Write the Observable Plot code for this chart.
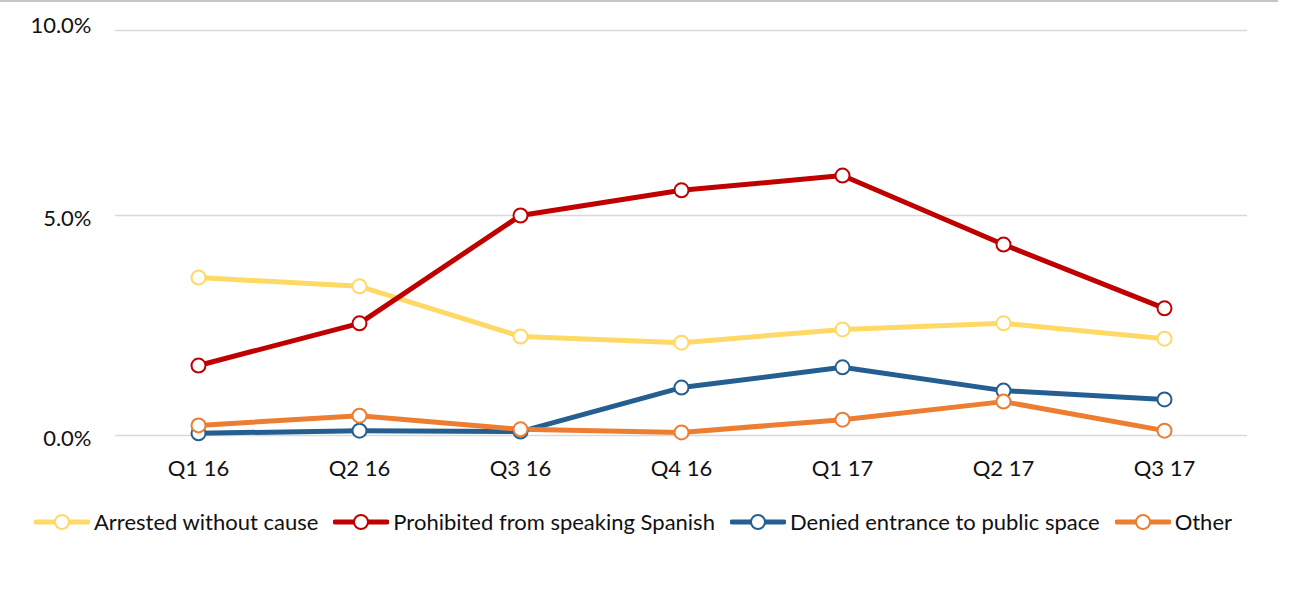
<!DOCTYPE html>
<html>
<head>
<meta charset="utf-8">
<script src="https://cdn.jsdelivr.net/npm/d3@7"></script>
<script src="https://cdn.jsdelivr.net/npm/@observablehq/plot@0.6"></script>
<style>
  html, body { margin: 0; padding: 0; background: #fff; }
  body { width: 1291px; height: 598px; overflow: hidden; font-family: Lato, "Open Sans", sans-serif; color: #111; }
  #frame { position: absolute; left: 0; top: 0; width: 1278px; height: 0; border-top: 2px solid #c6c6c6; }
  #chart { position: absolute; left: 0; top: 0; }
  #legend { position: absolute; left: 34px; top: 508px; display: flex; align-items: center; font-size: 22px; white-space: nowrap; }
  .item { display: flex; align-items: center; margin-right: 15px; }
  .item svg { margin-right: 4px; }
</style>
</head>
<body>
<div id="frame"></div>
<div id="chart"></div>
<div id="legend"></div>
<script>
const quarters = ["Q1 16", "Q2 16", "Q3 16", "Q4 16", "Q1 17", "Q2 17", "Q3 17"];
const seriesNames = ["Arrested without cause", "Prohibited from speaking Spanish", "Denied entrance to public space", "Other"];
const seriesColors = ["#FFD966", "#C00000", "#255E91", "#ED7D31"];
const arrested = [3.59, 3.39, 2.25, 2.11, 2.41, 2.55, 2.20];
const spanish = [1.59, 2.55, 5.00, 5.68, 6.08, 4.34, 2.89];
const denied = [0.05, 0.11, 0.09, 1.09, 1.55, 1.02, 0.82];
const other = [0.23, 0.45, 0.14, 0.07, 0.36, 0.77, 0.11];
const yTicks = [0, 5, 10];

const allSeries = [arrested, spanish, denied, other];
const rows = [];
allSeries.forEach((vals, si) => vals.forEach((v, qi) => rows.push({series: seriesNames[si], quarter: quarters[qi], value: v})));

const fmt = d => d.toFixed(1) + "%";
const chart = Plot.plot({
  width: 1291,
  height: 490,
  marginLeft: 115,
  marginRight: 44,
  marginTop: 30,
  marginBottom: 55,
  style: {fontFamily: "Lato, 'Open Sans', sans-serif", fontSize: "22px", color: "#111", background: "transparent"},
  x: {type: "point", domain: quarters, padding: 0.5, label: null},
  y: {type: "linear", domain: [0, 5, 10], range: [435, 215, 30], label: null},
  color: {domain: seriesNames, range: seriesColors},
  marks: [
    Plot.ruleY(yTicks, {y: d => d, stroke: "#d9d9d9", strokeWidth: 1.5}),
    Plot.axisY(yTicks.filter(d => d < 10), {tickSize: 0, tickPadding: 24, tickFormat: fmt, label: null, fontSize: 22, dy: 3}),
    Plot.axisY(yTicks.filter(d => d >= 10), {tickSize: 0, tickPadding: 24, tickFormat: fmt, label: null, fontSize: 22, dy: -5}),
    Plot.axisX(quarters, {tickSize: 0, tickPadding: 25, label: null, fontSize: 22}),
    Plot.line(rows, {x: "quarter", y: "value", z: "series", stroke: "series", strokeWidth: 5, strokeLinejoin: "round", strokeLinecap: "round"}),
    Plot.dot(rows, {x: "quarter", y: "value", stroke: "series", fill: "white", r: 7, strokeWidth: 2})
  ]
});
document.getElementById("chart").appendChild(chart);

const legend = document.getElementById("legend");
seriesNames.forEach((name, i) => {
  const item = document.createElement("div");
  item.className = "item";
  item.innerHTML = `<svg width="56" height="20"><line x1="2" y1="10" x2="54" y2="10" stroke="${seriesColors[i]}" stroke-width="5" stroke-linecap="round"/><circle cx="28" cy="10" r="7" fill="white" stroke="${seriesColors[i]}" stroke-width="2"/></svg><span>${name}</span>`;
  legend.appendChild(item);
});
</script>
</body>
</html>
